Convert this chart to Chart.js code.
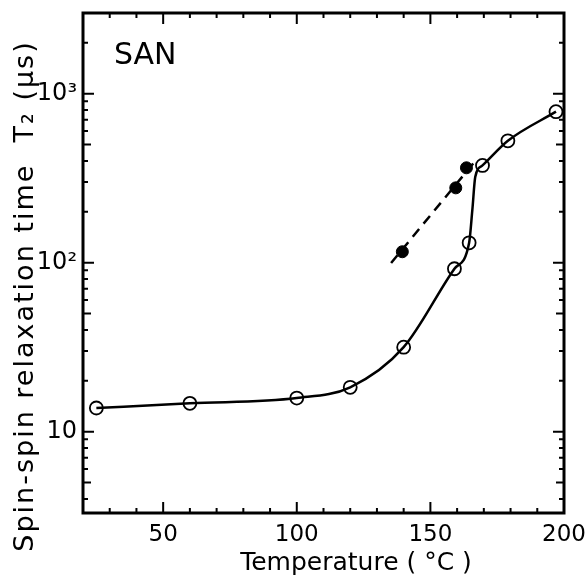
<!DOCTYPE html>
<html><head><meta charset="utf-8">
<script src="https://cdn.jsdelivr.net/npm/chart.js@4/dist/chart.umd.min.js"></script>
<style>html,body{margin:0;padding:0;background:#fff}#wrap{width:586px;height:578px}</style>
</head><body><div id="wrap"><canvas id="c" width="586" height="578"></canvas></div>
<script>
// Data
const openTemp = [25, 60, 100, 120, 140, 159, 164.5, 169.5, 179, 197];
const openT2 = [13.8, 14.7, 15.8, 18.3, 31.6, 92, 131, 376, 526, 782];
const filledTemp = [139.5, 159.5, 163.5];
const filledT2 = [116, 277, 364];
const curveTemp = [25, 60, 100, 120, 140, 159, 164.5, 165.7, 166.8, 169.5, 179, 197];
const curveT2 = [13.8, 14.7, 15.8, 18.3, 31.6, 92, 131, 205, 322, 376, 526, 782];
const dashTemp = [135.3, 167.5];
const dashT2 = [99.5, 412];
const xTickValues = [50, 100, 150, 200];
const xMinorTicks = [30, 40, 60, 70, 80, 90, 110, 120, 130, 140, 160, 170, 180, 190];
const yTickValues = [10, 100, 1000];
const yTickLabels = ['10', '10\u00B2', '10\u00B3'];
const yMinorTicks = [4, 5, 6, 7, 8, 9, 20, 30, 40, 50, 60, 70, 80, 90, 200, 300, 400, 500, 600, 700, 800, 900, 2000];
const yMidTicks = [5, 50, 500];
const xTitle = 'Temperature ( \u00B0C )';
const yTitle = 'Spin-spin relaxation time  T\u2082 (\u03BCs)';
const sampleName = 'SAN';

const pts = (xs, ys) => xs.map((x, i) => ({x: x, y: ys[i]}));
const FONT = "'DejaVu Sans', sans-serif";

const framePlugin = {
  id: 'frame',
  beforeDatasetsDraw(chart) {
    const {ctx, chartArea: a, scales} = chart;
    ctx.save();
    ctx.strokeStyle = '#000';
    ctx.lineWidth = 3;
    ctx.strokeRect(a.left, a.top, a.right - a.left, a.bottom - a.top);
    ctx.lineWidth = 2;
    ctx.beginPath();
    const xt = (v, len) => {
      const px = scales.x.getPixelForValue(v);
      ctx.moveTo(px, a.bottom); ctx.lineTo(px, a.bottom - len);
      ctx.moveTo(px, a.top); ctx.lineTo(px, a.top + len);
    };
    const yt = (v, len) => {
      const py = scales.y.getPixelForValue(v);
      ctx.moveTo(a.left, py); ctx.lineTo(a.left + len, py);
      ctx.moveTo(a.right, py); ctx.lineTo(a.right - len, py);
    };
    xTickValues.forEach(v => xt(v, 11));
    xMinorTicks.forEach(v => xt(v, 5));
    yTickValues.forEach(v => yt(v, 11));
    yMinorTicks.forEach(v => yt(v, yMidTicks.includes(v) ? 8 : 5));
    ctx.stroke();
    ctx.restore();
  },
  afterDraw(chart) {
    const {ctx} = chart;
    ctx.save();
    ctx.fillStyle = '#000';
    ctx.font = '25px ' + FONT;
    ctx.textAlign = 'center';
    ctx.textBaseline = 'middle';
    ctx.fillText(xTitle, 356, 563);
    ctx.save();
    ctx.translate(26, 296);
    ctx.rotate(-Math.PI / 2);
    ctx.font = '27px ' + FONT;
    ctx.letterSpacing = '2px';
    ctx.fillText(yTitle, 0, 0);
    ctx.restore();
    ctx.font = '30px ' + FONT;
    ctx.textAlign = 'left';
    ctx.textBaseline = 'alphabetic';
    ctx.fillText(sampleName, 114, 64);
    ctx.restore();
  }
};

new Chart(document.getElementById('c'), {
  type: 'line',
  data: {
    datasets: [
      {data: pts(curveTemp, curveT2), borderColor: '#000', borderWidth: 2.5, pointRadius: 0,
       cubicInterpolationMode: 'monotone', fill: false, clip: false},
      {data: pts(dashTemp, dashT2), borderColor: '#000', borderWidth: 2.5, pointRadius: 0,
       borderDash: [10, 7], fill: false, clip: false},
      {data: pts(openTemp, openT2), showLine: false, pointRadius: 6.5, pointBorderWidth: 1.8,
       pointBackgroundColor: '#fff', pointBorderColor: '#000', clip: false},
      {data: pts(filledTemp, filledT2), showLine: false, pointRadius: 6, pointBorderWidth: 1,
       pointBackgroundColor: '#000', pointBorderColor: '#000', clip: false}
    ]
  },
  options: {
    responsive: false,
    animation: false,
    devicePixelRatio: 1,
    layout: {padding: {top: 13, right: 22, left: 0, bottom: 0}},
    plugins: {legend: {display: false}, tooltip: {enabled: false}},
    scales: {
      x: {
        type: 'linear', min: 20, max: 200,
        afterBuildTicks: s => { s.ticks = xTickValues.map(v => ({value: v})); },
        afterFit: s => { s.height = 65; s.paddingLeft = 0; s.paddingRight = 0; },
        grid: {display: false, drawTicks: false},
        border: {display: false},
        ticks: {color: '#000', font: {family: FONT, size: 23}, padding: 8, maxRotation: 0,
                callback: v => String(v)}
      },
      y: {
        type: 'logarithmic', min: 3.3, max: 3000,
        afterBuildTicks: s => { s.ticks = yTickValues.map(v => ({value: v})); },
        afterFit: s => { s.width = 83; s.paddingTop = 0; s.paddingBottom = 0; },
        grid: {display: false, drawTicks: false},
        border: {display: false},
        ticks: {color: '#000', font: {family: FONT, size: 24}, padding: 6,
                callback: v => yTickLabels[yTickValues.indexOf(v)] ?? ''}
      }
    }
  },
  plugins: [framePlugin]
});
</script></body></html>
